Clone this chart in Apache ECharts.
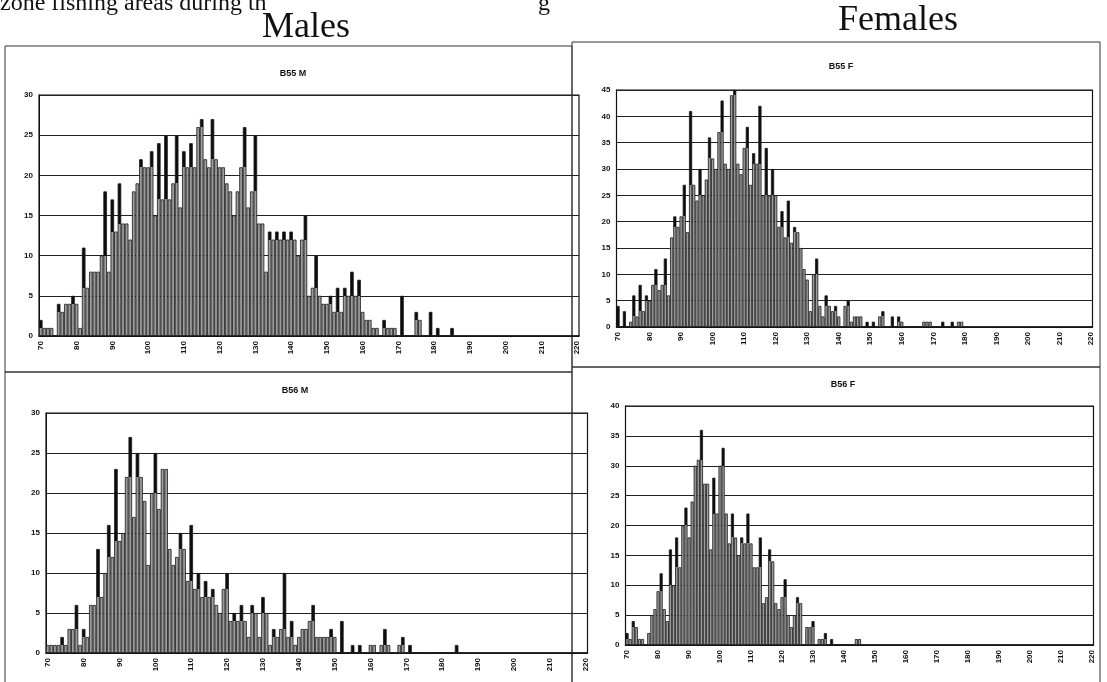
<!DOCTYPE html>
<html>
<head>
<meta charset="utf-8">
<script src="https://cdn.jsdelivr.net/npm/echarts@6/dist/echarts.min.js"></script>
<style>
html,body{margin:0;padding:0;background:#fff;}
#chart{width:1107px;height:682px;}
</style>
</head>
<body>
<div id="chart"></div>
<script>
// Length classes (mm), 70..220
const lengthBins = [70,71,72,73,74,75,76,77,78,79,80,81,82,83,84,85,86,87,88,89,90,91,92,93,94,95,96,97,98,99,
100,101,102,103,104,105,106,107,108,109,110,111,112,113,114,115,116,117,118,119,120,121,122,123,124,125,126,127,128,129,
130,131,132,133,134,135,136,137,138,139,140,141,142,143,144,145,146,147,148,149,150,151,152,153,154,155,156,157,158,159,
160,161,162,163,164,165,166,167,168,169,170,171,172,173,174,175,176,177,178,179,180,181,182,183,184,185,186,187,188,189,
190,191,192,193,194,195,196,197,198,199,200,201,202,203,204,205,206,207,208,209,210,211,212,213,214,215,216,217,218,219,220];

const panelTitles = ["B55 M", "B55 F", "B56 M", "B56 F"];
const yMaxes = [30, 45, 30, 40];

// B55 M counts, starting at 70
const b55M = [2,1,1,1,0,4,3,4,4,5, 4,1,11,6,8,8,8,10,18,8, 17,13,19,14,14,12,18,19,22,21,
21,23,15,24,17,25,17,19,25,16, 23,21,24,21,26,27,22,21,27,22, 21,21,19,18,15,18,21,26,16,18,
25,14,14,8,13,12,13,12,13,12, 13,12,10,12,15,5,6,10,5,4, 4,5,3,6,3,6,5,8,5,7,
3,2,2,1,1,0,2,1,1,1, 0,5,0,0,0,3,2,0,0,3, 0,1,0,0,0,1];

// B55 F counts, starting at 70
const b55F = [4,0,3,0,1,6,2,8,3,6, 5,8,11,7,8,13,6,17,21,19, 21,27,18,41,27,24,30,25,28,36,
32,30,37,43,31,30,44,45,31,29, 34,38,27,33,31,42,25,34,25,30, 25,19,22,17,24,16,19,18,15,11,
9,3,10,13,4,2,6,4,3,4, 2,0,4,5,1,2,2,2,0,1, 0,1,0,2,3,0,0,2,0,2,
1,0,0,0,0,0,0,1,1,1, 0,0,0,1,0,0,1,0,1,1];

// B56 M counts, starting at 70
const b56M = [1,1,1,1,2,1,3,3,6,1, 3,2,6,6,13,7,10,16,12,23, 14,15,22,27,17,25,22,19,11,20,
25,18,23,23,13,11,12,15,13,9, 16,8,10,7,9,7,8,6,5,8, 10,4,5,4,6,4,2,6,5,2,
7,5,1,3,2,3,10,2,4,1, 2,3,3,4,6,2,2,2,2,3, 2,0,4,0,0,1,0,1,0,0,
1,1,0,1,3,1,0,0,1,2, 0,1,0,0,0,0,0,0,0,0, 0,0,0,0,1];

// B56 F counts, starting at 70
const b56F = [2,1,4,3,1,1,0,2,5,6, 9,12,6,4,16,10,18,13,20,23, 18,24,30,31,36,27,27,16,28,22,
30,33,22,17,22,18,15,18,17,22, 17,13,13,18,7,8,16,14,7,6, 8,11,5,3,5,8,7,0,3,3,
4,0,1,1,2,0,1,0,0,0, 0,0,0,0,1,1];

const seriesData = [b55M, b55F, b56M, b56F];

const GRAY = '#9c9c9c';
const DARK = '#0c0c0c';
function styled(vals) {
  return vals.map((v, i) => {
    const m = Math.max(vals[i - 1] || 0, vals[i + 1] || 0);
    let color = GRAY;
    if (v > 0 && v > m) {
      const f = (v - m) / v;
      color = {type: 'linear', x: 0, y: 0, x2: 0, y2: 1, colorStops: [
        {offset: 0, color: DARK}, {offset: f, color: DARK},
        {offset: f, color: GRAY}, {offset: 1, color: GRAY}]};
    }
    return {value: v, itemStyle: {color: color}};
  });
}

const grids = [
  {left: 39, top: 95, width: 540, height: 241},
  {left: 616.5, top: 90, width: 476, height: 237},
  {left: 46, top: 413, width: 541.5, height: 240},
  {left: 625.5, top: 406, width: 468, height: 239}
];
const titleCenters = [[288, 64], [836, 57], [290, 381], [838, 375]];

const chart = echarts.init(document.getElementById('chart'), null, {renderer: 'canvas'});
const labelFont = {fontFamily: 'Liberation Sans', fontWeight: 'bold', fontSize: 8, color: '#111'};

chart.setOption({
  backgroundColor: '#fff',
  animation: false,
  title: panelTitles.map((t, i) => ({
    text: t, left: titleCenters[i][0], top: titleCenters[i][1], textAlign: 'center',
    textStyle: {fontFamily: 'Liberation Sans', fontWeight: 'bold', fontSize: 9, color: '#111'}
  })),
  grid: grids.map(g => Object.assign({show: true, borderColor: '#111', borderWidth: 1.2, backgroundColor: 'transparent'}, g)),
  xAxis: grids.map((g, i) => ({
    type: 'category', gridIndex: i, data: lengthBins.map(String),
    axisLine: {lineStyle: {color: '#111', width: 1.5}},
    axisTick: {interval: 4, alignWithLabel: true, length: 3, lineStyle: {color: '#111'}},
    axisLabel: Object.assign({interval: 9, rotate: 90, margin: 5}, labelFont)
  })),
  yAxis: grids.map((g, i) => ({
    type: 'value', gridIndex: i, min: 0, max: yMaxes[i], interval: 5,
    axisLine: {show: true, lineStyle: {color: '#111'}},
    axisTick: {show: false},
    splitLine: {lineStyle: {color: '#222', width: 1.2}},
    axisLabel: Object.assign({margin: 6}, labelFont)
  })),
  series: seriesData.map((d, i) => ({
    type: 'bar', xAxisIndex: i, yAxisIndex: i, data: styled(d),
    barCategoryGap: '0%',
    itemStyle: {borderColor: '#1a1a1a', borderWidth: 0.8}
  })),
  graphic: [
    {type: 'text', left: 0, top: -8, style: {text: 'zone fishing areas during th', font: '24px "Liberation Serif"', fill: '#111'}},
    {type: 'text', left: 538, top: -8, style: {text: 'g', font: '24px "Liberation Serif"', fill: '#111'}},
    {type: 'text', left: 262, top: 10, style: {text: 'Males', font: '36px "Liberation Serif"', fill: '#111'}},
    {type: 'text', left: 838, top: 3, style: {text: 'Females', font: '36px "Liberation Serif"', fill: '#111'}},
    {type: 'rect', shape: {x: 5, y: 46, width: 567, height: 326}, style: {fill: 'none', stroke: '#333', lineWidth: 1}},
    {type: 'rect', shape: {x: 5, y: 372, width: 567, height: 330}, style: {fill: 'none', stroke: '#333', lineWidth: 1}},
    {type: 'rect', shape: {x: 572, y: 42, width: 528, height: 325}, style: {fill: 'none', stroke: '#333', lineWidth: 1}},
    {type: 'rect', shape: {x: 572, y: 367, width: 528, height: 335}, style: {fill: 'none', stroke: '#333', lineWidth: 1}}
  ]
});
</script>
</body>
</html>
